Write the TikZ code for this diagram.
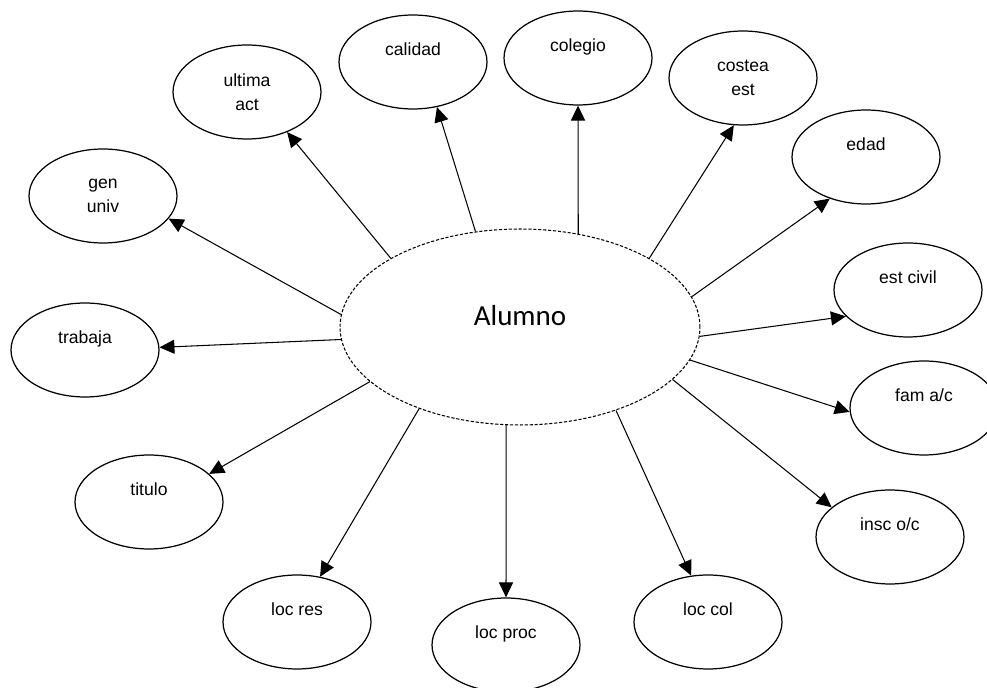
\documentclass[tikz,border=0pt]{standalone}
\usepackage{fontspec}
\setmainfont{Liberation Sans}
\newfontfamily\calibri{Carlito}
\usetikzlibrary{arrows.meta,shapes.geometric}

\begin{document}
\begin{tikzpicture}[x=0.02cm, y=-0.02cm,
    every node/.style={ellipse, draw, line width=0.7pt, minimum width=2.96cm, minimum height=1.88cm, inner sep=1pt, align=center, font=\fontsize{10}{13.7}\selectfont},
    oneline/.style={text depth=0.5cm},
    arr/.style={-{Triangle[length=8.5pt,width=8pt]}, line width=0.6pt}]
    \useasboundingbox (0,0) rectangle (987,688);
    \node[dash pattern=on 1.8pt off 1pt, line width=0.6pt, minimum width=7.2cm, minimum height=3.92cm, text depth=0.48cm, font=\calibri\fontsize{16.5}{20}\selectfont] (alumno) at (520,327) {Alumno};
    \node (ultima) at (247,92) {ultima\\act};
    \node[oneline] (calidad) at (413,62) {calidad};
    \node[oneline] (colegio) at (578,58) {colegio};
    \node (costea) at (743,78) {costea\\est};
    \node[oneline] (edad) at (866,157) {edad};
    \node (genuniv) at (103,196) {gen\\univ};
    \node[oneline] (trabaja) at (85,350) {trabaja};
    \node[oneline] (estcivil) at (908,290) {est civil};
    \node[oneline] (famac) at (924,408) {fam a/c};
    \node[oneline] (titulo) at (149,502) {titulo};
    \node[oneline] (inscoc) at (890,537) {insc o/c};
    \node[oneline] (locres) at (297,622) {loc res};
    \node[oneline] (locproc) at (506,645) {loc proc};
    \node[oneline] (loccol) at (708,622) {loc col};
        \draw[arr] (alumno.152) -- (ultima.-45);
        \draw[arr] (alumno.115) -- (calidad.-62);
        \draw[arr] (alumno.58) -- (colegio.south);
        \draw[arr] (alumno.28) -- (costea.-101);
        \draw[arr] (alumno.10) -- (edad.-131);
        \draw[arr] (alumno.-3) -- (estcivil.-157);
        \draw[arr] (alumno.-11) -- (famac.-177);
        \draw[arr] (alumno.-19) -- (inscoc.153);
        \draw[arr] (alumno.-41) -- (loccol.110);
        \draw[arr] (alumno.-98) -- (locproc.north);
        \draw[arr] (alumno.-141) -- (locres.63);
        \draw[arr] (alumno.-160) -- (titulo.25);
        \draw[arr] (alumno.-176) -- (trabaja.2);
        \draw[arr] (alumno.176) -- (genuniv.-19);
\end{tikzpicture}
\end{document}
